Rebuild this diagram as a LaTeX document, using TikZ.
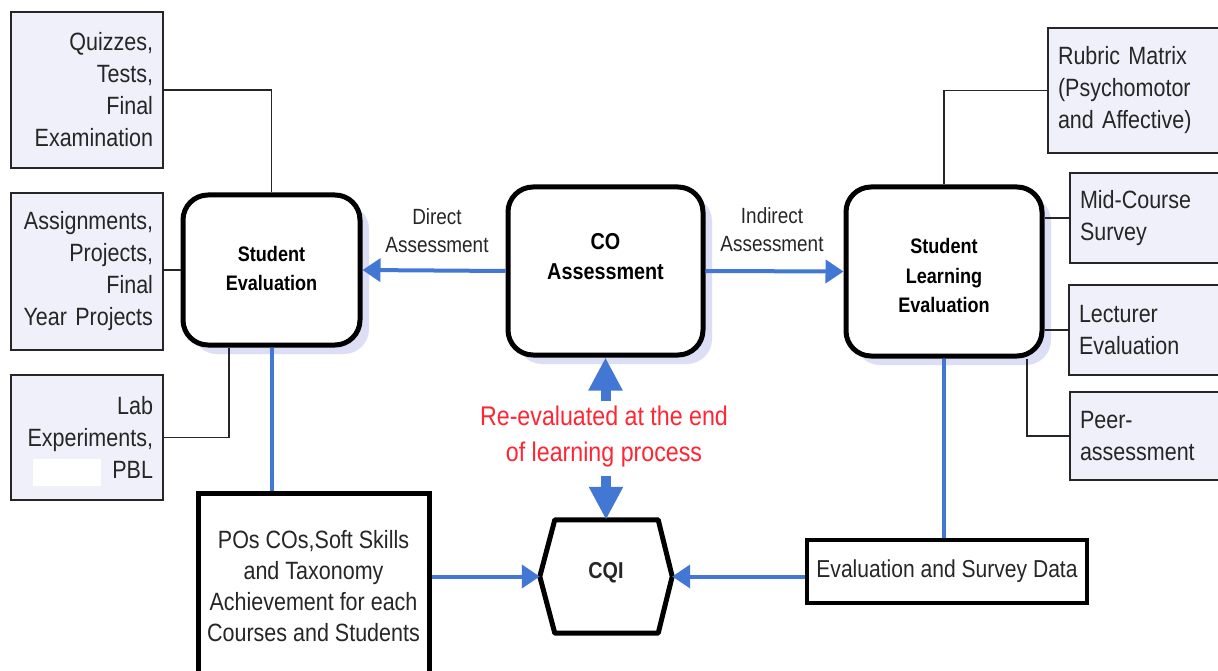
\documentclass[tikz,border=0pt]{standalone}
\usepackage{fontspec}
\setmainfont{Liberation Sans}[FakeStretch=0.86]
\usetikzlibrary{arrows.meta,shadows,calc}

\definecolor{boxfill}{RGB}{240,240,250}
\definecolor{shade}{RGB}{220,222,245}
\definecolor{flow}{RGB}{66,120,212}
\definecolor{note}{RGB}{255,38,52}
\definecolor{ink}{RGB}{38,38,38}

\tikzset{
  srcbox/.style={draw=ink, line width=1.5pt, fill=boxfill, inner xsep=10pt, inner ysep=3pt,
    text=ink, font=\fontsize{25}{32}\selectfont},
  leftbox/.style={srcbox, align=right, text width=132pt},
  rightbox/.style={srcbox, align=left},
  stage/.style={draw=black, line width=5pt, rounded corners=25pt, fill=white, align=center,
    font=\bfseries\fontsize{21}{29}\selectfont,
    drop shadow={shadow xshift=9pt, shadow yshift=-9pt, fill=shade, opacity=1}},
  stagetext/.style={align=center, text=black, font=\bfseries\fontsize{21}{29.5}\selectfont},
  databox/.style={draw=black, line width=5pt, fill=white, align=center, text=ink},
  tie/.style={draw=ink, line width=1.5pt},
  flowline/.style={draw=flow, line width=4pt},
  flowarrow/.style={flowline, -{Triangle[length=18pt,width=23pt]}},
  bigarrow/.style={draw=flow, line width=10pt, -{Triangle[length=33pt,width=32pt]}},
  tag/.style={align=center, text=ink, font=\fontsize{22}{28}\selectfont}
}

\begin{document}
\begin{tikzpicture}[x=1pt, y=-1pt]
  \useasboundingbox (0,0) rectangle (1218,671);
  \fill[white] (0,0) rectangle (1218,671);
  \clip (0,0) rectangle (1218,671);

  % assessment instruments, left side
  \node[leftbox, minimum height=156pt] (quiz) at (87,90) {Quizzes,\\Tests,\\Final\\Examination};
  \node[leftbox, minimum height=157pt] (assign) at (87,271.5) {Assignments,\\Projects,\\Final\\Year Projects};
  \node[leftbox, minimum height=125pt] (lab) at (87,437.5) {Lab\\Experiments,\\PBL};
  \fill[white] (33,459) rectangle (101,486);

  % evaluation stages
  \node[stage, minimum width=177pt, minimum height=150pt] (se) at (271.5,270) {};
  \node[stagetext] (setext) at (271.5,268.5) {Student\\Evaluation};
  \node[stage, minimum width=195pt, minimum height=168pt] (co) at (605.5,271) {};
  \node[stagetext, font=\bfseries\fontsize{23}{30}\selectfont] (cotext) at (605.5,257) {CO\\Assessment};
  \node[stage, minimum width=196pt, minimum height=169pt] (sle) at (944,271.5) {};
  \node[stagetext] (sletext) at (944,275.5) {Student\\Learning\\Evaluation};

  % survey instruments, right side
  \node[rightbox, text width=156pt, minimum height=125pt] (rubric) at (1136,90.5) {Rubric Matrix\\(Psychomotor\\and Affective)};
  \node[rightbox, text width=135pt, minimum height=90pt] (mid) at (1147.5,218) {Mid-Course\\Survey};
  \node[rightbox, text width=136pt, minimum height=90pt] (lect) at (1147,330) {Lecturer\\Evaluation};
  \node[rightbox, text width=135pt, minimum height=88pt] (peer) at (1147.5,436) {Peer-\\assessment};

  % collected results
  \node[databox, minimum width=231pt, minimum height=187pt, font=\fontsize{25}{31}\selectfont]
    (pos) at (313.5,586.5) {POs COs,Soft Skills\\and Taxonomy\\Achievement for each\\Courses and Students};
  \node[databox, line width=4.5pt, minimum width=280pt, minimum height=63pt, font=\fontsize{24.5}{30}\selectfont]
    (eval) at (947,571.5) {Evaluation and Survey Data};

  % continuous quality improvement hexagon
  \node[minimum width=132pt, minimum height=113pt] (cqi) at (606,576.5) {};
  \fill[shade, shift={(8,8)}] (cqi.west) -- ($(cqi.north west)+(15,0)$) -- ($(cqi.north east)+(-14,0)$)
    -- (cqi.east) -- ($(cqi.south east)+(-14,0)$) -- ($(cqi.south west)+(15,0)$) -- cycle;
  \draw[line width=5pt, fill=white, line join=round] (cqi.west) -- ($(cqi.north west)+(15,0)$) -- ($(cqi.north east)+(-14,0)$)
    -- (cqi.east) -- ($(cqi.south east)+(-14,0)$) -- ($(cqi.south west)+(15,0)$) -- cycle;
  \node[font=\bfseries\fontsize{23}{28}\selectfont, text=ink] (cqitext) at ([yshift=4pt]cqi.center) {CQI};

  % instrument ties
  \draw[tie] (quiz.east) -| (se.north);
  \draw[tie] (se.west -| assign.east) -- (se.west);
  \draw[tie] (lab.east) -| ([xshift=-42.5pt]se.south);
  \draw[tie] (rubric.west) -| (sle.north);
  \draw[tie] (mid.west) -- (mid.west -| sle.east);
  \draw[tie] (lect.west) -- (lect.west -| sle.east);
  \draw[tie] (peer.west) -| ([xshift=83pt]sle.south);

  % assessment flow
  \draw[flowarrow] (co.west) -- (se.east);
  \draw[flowarrow] (co.east) -- (sle.west);
  \node[tag] (direct) at (437,231) {Direct\\Assessment};
  \node[tag] (indirect) at (772,229.5) {Indirect\\Assessment};
  \draw[flowline] (se.south) -- (se.south |- pos.north);
  \draw[flowline] (sle.south) -- (sle.south |- eval.north);
  \draw[flowarrow] (pos.east |- cqi.west) -- (cqi.west);
  \draw[flowarrow] (eval.west |- cqi.east) -- (cqi.east);

  % re-evaluation loop
  \node[align=center, text=note, font=\fontsize{27}{36}\selectfont] (loop) at (604,437)
    {Re-evaluated at the end\\of learning process};
  \coordinate (upfrom) at (605.5,401);
  \coordinate (downfrom) at (606,476);
  \draw[bigarrow] (upfrom) -- (co.south);
  \draw[bigarrow] (downfrom) -- (cqi.north);
\end{tikzpicture}
\end{document}
